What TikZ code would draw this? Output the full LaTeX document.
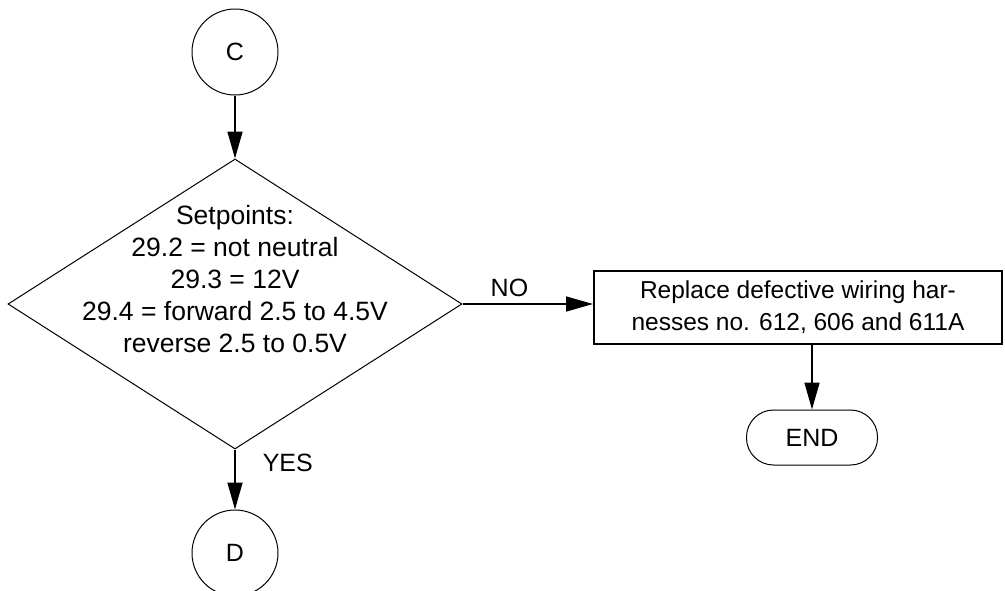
\documentclass[tikz,border=0pt]{standalone}
\usepackage{fontspec}
\setmainfont{Liberation Sans}
\usetikzlibrary{shapes.geometric,arrows.meta}
\begin{document}
\begin{tikzpicture}[x=1pt,y=-1pt,
  txt/.style={font=\fontsize{25}{32}\selectfont},
  bigtxt/.style={font=\fontsize{26.5}{32}\selectfont},
  conn/.style={draw, circle, line width=1pt, minimum size=86pt, inner sep=0pt, txt},
  arr/.style={line width=1.6pt, -{Triangle[length=27pt,width=15pt]}},
  decision/.style={draw, diamond, line width=1pt, minimum width=454pt, minimum height=290pt, inner sep=0pt},
  process/.style={draw, line width=2pt, minimum width=408pt, minimum height=73pt, align=center, font=\fontsize{24.5}{32}\selectfont},
  terminal/.style={draw, line width=1pt, rounded corners=27pt, minimum width=131pt, minimum height=55pt, txt}]
\useasboundingbox (0,0) rectangle (1005,590);
\node[conn] (c) at (235,52) {C};
\node[decision] (dec) at (235,304) {};
\node[bigtxt, align=center] (dectext) at (235,279) {Setpoints:\\29.2 = not neutral\\29.3 = 12V\\29.4 = forward 2.5 to 4.5V\\reverse 2.5 to 0.5V};
\node[process] (box) at (798,307.5) {Replace defective wiring har-\\nesses no. 612, 606 and 611A};
\node[terminal] (end) at (812,437.5) {END};
\node[conn] (d) at (235,553) {D};
\draw[arr] (c) -- (dec.north);
\draw[arr] (dec.east) -- node[pos=0.36, anchor=south, inner sep=0pt, yshift=6pt, txt] {NO} (dec.east -| box.west);
\draw[arr] (dec.south) -- node[pos=0.23, anchor=west, inner sep=0pt, xshift=27pt, txt] {YES} (d.north);
\draw[arr] (box.south -| end.north) -- (end.north);
\end{tikzpicture}
\end{document}
